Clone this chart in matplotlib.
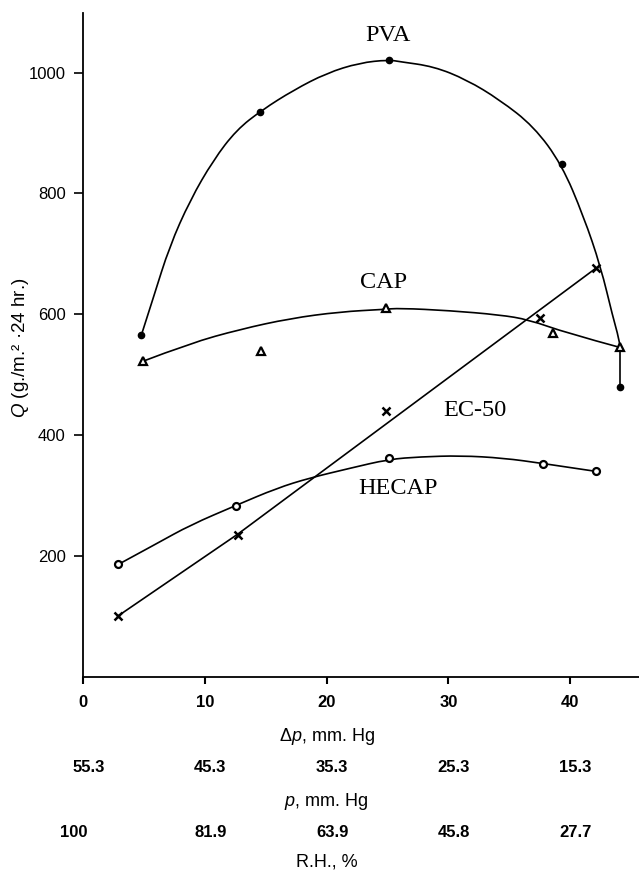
import matplotlib
matplotlib.use("Agg")
import matplotlib.pyplot as plt
from matplotlib.path import Path
from matplotlib.patches import PathPatch
from matplotlib.transforms import blended_transform_factory

# ===== font setup =====
plt.rcParams["font.family"] = ["Liberation Sans", "DejaVu Sans"]
plt.rcParams["mathtext.fontset"] = "custom"
plt.rcParams["mathtext.rm"] = "Liberation Sans"
plt.rcParams["mathtext.it"] = "Liberation Sans:italic"

# ===== data =====
# measured points, x = delta p (mm Hg), y = Q (g/m2/24 hr)
pva_x = [4.8, 14.5, 25.1, 39.3, 44.1]
pva_y = [566, 935, 1020, 848, 479]
cap_x = [4.9, 14.6, 24.9, 38.6, 44.1]
cap_y = [522, 539, 610, 569, 545]
ec50_x = [2.9, 12.7, 24.9, 37.5, 42.1]
ec50_y = [101, 235, 440, 594, 676]
hecap_x = [2.9, 12.6, 25.1, 37.8, 42.1]
hecap_y = [186, 282, 362, 352, 340]

# hand-drawn fitted curves
pva_fit_x = [4.8, 5.8, 7.1, 8.8, 10.7, 12.6, 14.7, 17.3, 20.0, 22.7, 25.1,
             26.0, 28.8, 31.5, 34.2, 37.0, 39.3, 41.1, 42.5, 43.5, 44.0, 44.1]
pva_fit_y = [566, 629, 712, 789, 855, 905, 938, 971, 999, 1016, 1021,
             1018, 1010, 988, 955, 911, 848, 762, 679, 596, 560, 546]
cap_fit_x = [4.9, 8.8, 12.9, 17.0, 21.1, 24.7, 26.0, 30.1, 34.2, 36.6, 39.7, 44.1]
cap_fit_y = [522, 552, 575, 593, 604, 608, 610, 606, 599, 591, 569, 545]
ec50_fit_x = [2.9, 12.7, 42.1]
ec50_fit_y = [101, 236, 676]
hecap_fit_x = [2.9, 6.1, 8.8, 12.6, 15.9, 18.6, 21.9, 25.1, 27.7, 31.0, 34.5, 37.8, 42.1]
hecap_fit_y = [186, 221, 251, 284, 312, 329, 345, 360, 364, 366, 362, 353, 340]

# axis ticks and the two extra scales under the x axis
dp_ticks = [0, 10, 20, 30, 40]
q_ticks = [200, 400, 600, 800, 1000]
p_labels = ["55.3", "45.3", "35.3", "25.3", "15.3"]
rh_labels = ["100", "81.9", "63.9", "45.8", "27.7"]


def smooth_curve(ax, xs, ys, **kw):
    # traced points used as quadratic bezier controls so the pen line stays smooth
    pts = list(zip(xs, ys))
    verts = [pts[0]]
    codes = [Path.MOVETO]
    for i in range(1, len(pts) - 1):
        if i < len(pts) - 2:
            end = ((pts[i][0] + pts[i + 1][0]) / 2, (pts[i][1] + pts[i + 1][1]) / 2)
        else:
            end = pts[-1]
        verts += [pts[i], end]
        codes += [Path.CURVE3, Path.CURVE3]
    ax.add_patch(PathPatch(Path(verts, codes), fill=False, **kw))


# ===== figure =====
fig = plt.figure(figsize=(6.39, 8.72), dpi=100)
W, H = 639, 872
ax = fig.add_axes([83 / W, (H - 676.8) / H, (W - 83) / W, (676.8 - 13.3) / H])
ax.set_xlim(0, 45.65)
ax.set_ylim(0, 1098)

smooth_curve(ax, pva_fit_x, pva_fit_y, ec="black", lw=1.2)
# PVA drops straight to its last point
ax.plot([pva_fit_x[-1], pva_x[-1]], [pva_fit_y[-1], pva_y[-1]], color="black", lw=1.2)
smooth_curve(ax, cap_fit_x, cap_fit_y, ec="black", lw=1.2)
smooth_curve(ax, hecap_fit_x, hecap_fit_y, ec="black", lw=1.2)
ax.plot(ec50_fit_x, ec50_fit_y, color="black", lw=1.2)

ax.plot(pva_x, pva_y, "o", ms=4.5, color="black", zorder=3)
ax.plot(cap_x, cap_y, "^", ms=6, mfc="white", mec="black", mew=1.6, zorder=3)
ax.plot(ec50_x, ec50_y, "x", ms=6, mec="black", mew=1.8, zorder=3)
ax.plot(hecap_x, hecap_y, "o", ms=5, mfc="white", mec="black", mew=1.6, zorder=3)

serif = dict(family=["Liberation Serif", "DejaVu Serif"], fontsize=17.5,
             ha="center", va="center")
ax.text(25.0, 1061, "PVA", **serif)
ax.text(24.7, 653, "CAP", **serif)
ax.text(32.2, 440, "EC-50", **serif)
ax.text(25.9, 312, "HECAP", **serif)

# axes styling
for side in ["top", "right"]:
    ax.spines[side].set_visible(False)
ax.spines["left"].set_linewidth(1.3)
ax.spines["bottom"].set_linewidth(1.3)

ax.set_yticks(q_ticks)
ax.set_yticklabels([str(v) for v in q_ticks])
ax.tick_params(axis="y", direction="out", length=6.5, width=1.2, pad=6, labelsize=12)
ax.set_xticks(dp_ticks)
ax.set_xticklabels([str(v) for v in dp_ticks], fontweight="bold")
ax.tick_params(axis="x", direction="out", length=5, width=1.5, pad=8, labelsize=12)

fig.text(21 / W, 1 - 348 / H, "$Q$ (g./m.\u00b2 \u00b724 hr.)", rotation=90,
         ha="center", va="center", fontsize=13.5)

trans = blended_transform_factory(ax.transData, fig.transFigure)
ax.text(20, 1 - 736 / H, "\u0394$p$, mm. Hg", transform=trans, ha="center",
        va="center", fontsize=13)
for x, lab in zip(dp_ticks, p_labels):
    ax.text(x + 0.45, 1 - 767 / H, lab, transform=trans, ha="center",
            va="center", fontsize=12, fontweight="bold")
ax.text(20, 1 - 801 / H, "$p$, mm. Hg", transform=trans, ha="center",
        va="center", fontsize=13)
for i, (x, lab) in enumerate(zip(dp_ticks, rh_labels)):
    if i == 0:
        ax.text(x + 0.35, 1 - 832 / H, lab, transform=trans, ha="right",
                va="center", fontsize=12, fontweight="bold")
    else:
        ax.text(x + 0.45, 1 - 832 / H, lab, transform=trans, ha="center",
                va="center", fontsize=12, fontweight="bold")
ax.text(20, 1 - 862 / H, "R.H., %", transform=trans, ha="center",
        va="center", fontsize=13)

fig.savefig("out.png", dpi=100)
